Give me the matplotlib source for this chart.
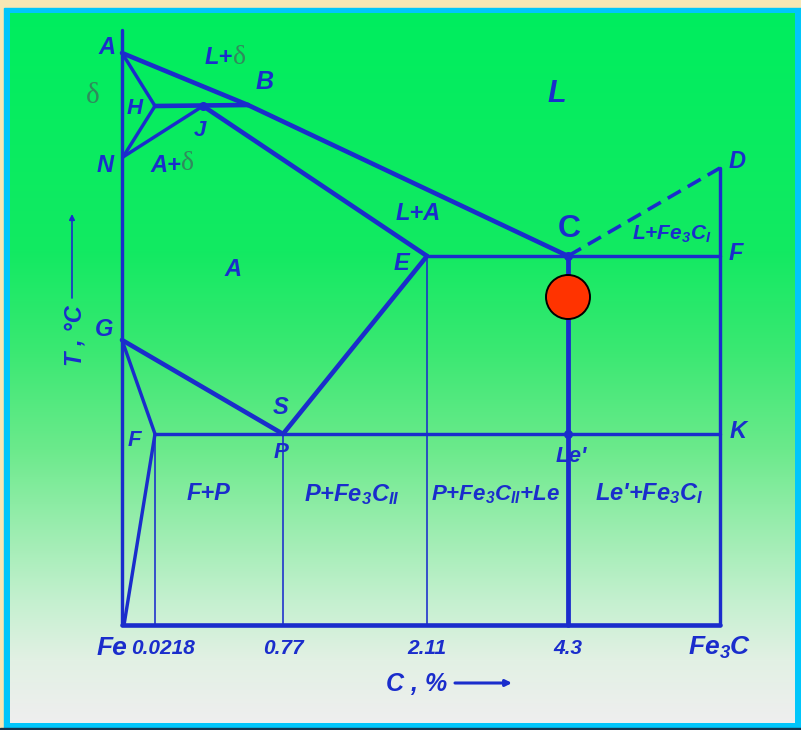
import numpy as np
import matplotlib
matplotlib.use("Agg")
import matplotlib.pyplot as plt
from matplotlib import font_manager
from matplotlib.patches import Rectangle, Circle

# ---------------------------------------------------------------- data ----
# Schematic Fe-Fe3C diagram: node positions on the drawing grid
node_names = ["top", "A", "H", "J", "B", "N", "E", "C", "F", "D",
              "G", "S", "Fp", "K", "Le", "Q", "Fe", "Fe3C",
              "b0218", "b077", "b211", "b43"]
node_x = [122, 122, 155, 203, 248, 123, 427, 568, 720, 720,
          122, 283, 155, 720, 568, 124, 122, 720,
          155, 283, 427, 568]
node_y = [30, 53, 106, 106, 105, 157, 256, 256, 256, 168,
          340, 434, 434, 434, 434, 625, 625, 625,
          625, 625, 625, 625]

# phase boundaries grouped by line weight (px)
heavy_lines = [("A", "B"), ("B", "C"), ("H", "B"), ("J", "E"),
               ("G", "S"), ("S", "E"), ("Fe", "Fe3C")]
medium_lines = [("top", "Fe"), ("A", "H"), ("H", "N"), ("N", "J"),
                ("E", "F"), ("Fp", "K"), ("G", "Fp"), ("Fp", "Q"),
                ("D", "Fe3C")]
thin_lines = [("Fp", "b0218"), ("S", "b077"), ("E", "b211")]
eutectic_alloy = ("C", "b43")
dashed_lines = [("C", "D")]
junction_dots = ["J", "C", "Le"]

# composition tick labels along the bottom
tick_nodes = ["Fe", "b0218", "b077", "b211", "b43", "Fe3C"]
tick_labels = ["Fe", "0.0218", "0.77", "2.11", "4.3", "Fe$_3$C"]

# alloy being followed (4.3 % C) just below the eutectic
alloy_marker = ("b43", 297)

# ------------------------------------------------------------- styling ----
W, H = 801, 730
BLUE = "#1a2dcc"
DELTA = "#2f8a5c"

names = {f.name for f in font_manager.fontManager.ttflist}
NARROW = "Liberation Sans Narrow" if "Liberation Sans Narrow" in names else "Liberation Sans"

plt.rcParams["mathtext.fontset"] = "custom"
plt.rcParams["mathtext.rm"] = f"{NARROW}:bold:italic"
plt.rcParams["mathtext.it"] = f"{NARROW}:bold:italic"
plt.rcParams["mathtext.bf"] = f"{NARROW}:bold:italic"
plt.rcParams["mathtext.default"] = "rm"

P = dict(zip(node_names, zip(node_x, node_y)))
PX = 0.72  # points per pixel at 100 dpi

fig = plt.figure(figsize=(W / 100, H / 100), dpi=100, facecolor="#f7e7b4")
ax = fig.add_axes([0, 0, 1, 1])
ax.set_xlim(0, W)
ax.set_ylim(H, 0)
ax.axis("off")

# frame and gradient panel
ax.add_patch(Rectangle((4, 8), W - 4, 720, color="#00c6fb", zorder=0))
ax.add_patch(Rectangle((0, 728), W, 2, color="#14324c", zorder=0))
stops_y = np.array([13, 250, 350, 450, 530, 600, 660, 723])
stops_c = np.array([[0x00, 0xee, 0x5e], [0x12, 0xea, 0x62], [0x3a, 0xe8, 0x72],
                    [0x6c, 0xea, 0x8c], [0x9c, 0xed, 0xb0], [0xc4, 0xf0, 0xcf],
                    [0xe2, 0xf1, 0xe4], [0xef, 0xee, 0xef]]) / 255.0
ys = np.arange(13, 723)
col = np.stack([np.interp(ys, stops_y, stops_c[:, k]) for k in range(3)], axis=1)
img = np.repeat(col[:, None, :], 785, axis=1)
ax.imshow(img, extent=(10, 795, 723, 13), aspect="auto", zorder=0.5,
          interpolation="bilinear")


def seg(a, b, lw_px, **kw):
    ax.plot([P[a][0], P[b][0]], [P[a][1], P[b][1]], color=BLUE,
            lw=lw_px * PX, solid_capstyle="round", zorder=2, **kw)


for a, b in heavy_lines:
    seg(a, b, 4.6)
for a, b in medium_lines:
    seg(a, b, 3.4)
for a, b in thin_lines:
    seg(a, b, 1.6)
seg(*eutectic_alloy, 4.8)
for a, b in dashed_lines:
    lw = 3.6 * PX
    ax.plot([P[a][0], P[b][0]], [P[a][1], P[b][1]], color=BLUE, lw=lw,
            dashes=(10.8 / lw, 5.8 / lw), zorder=2)
ax.plot([P[n][0] for n in junction_dots], [P[n][1] for n in junction_dots],
        "o", color=BLUE, ms=5.5, zorder=3)

mx, my = P[alloy_marker[0]][0], alloy_marker[1]
ax.add_patch(Circle((mx, my), 22, facecolor="#ff3300", edgecolor="black",
                    lw=1.4, zorder=4))


def label(x, y, s, size=17, **kw):
    opts = dict(color=BLUE, fontsize=size, fontweight="bold", fontstyle="italic",
                family="Liberation Sans", ha="center", va="center", zorder=5)
    opts.update(kw)
    return ax.text(x, y, s, **opts)


def delta_after(t, size=20):
    ax.annotate("δ", xy=(1.0, 0.0), xycoords=t, ha="left", va="bottom",
                fontsize=size, color=DELTA, family="Liberation Serif", zorder=5)


# point letters
label(107, 47, "A")
label(135, 109, "H", 16)
label(200, 130, "J", 16)
label(105, 165, "N")
label(265, 82, "B", 18)
label(737, 161, "D")
label(569, 229, "C", 23, fontstyle="normal")
label(401, 263, "E")
label(736, 254, "F")
label(104, 330, "G")
label(281, 407, "S")
label(134, 441, "F", 16)
label(281, 453, "P", 16)
label(738, 431, "K")
label(571, 456, "Le'", 16)

# phase fields
label(93, 96, "δ", 21, color=DELTA, family="Liberation Serif",
      fontweight="normal", fontstyle="normal")
t = label(219, 58, "L+", 17)
delta_after(t)
t = label(166, 165, "A+", 17)
delta_after(t)
label(557, 94, "L", 22)
label(418, 214, "L+A", 17)
label(233, 270, "A", 17)
label(672, 234, "L+Fe$_3$C$_I$", 15, family=NARROW)
label(209, 494, "F+P", 17, family=NARROW)
label(352, 495, "P+Fe$_3$C$_{II}$", 17, family=NARROW)
label(495, 495, "P+Fe$_3$C$_{II}$+Le", 16, family=NARROW)
label(649, 494, "Le'+Fe$_3$C$_I$", 17, family=NARROW)

# composition axis
for n, s in zip(tick_nodes, tick_labels):
    big = s.startswith("Fe")
    x = P[n][0] + (-10 if n == "Fe" else (8 if n == "b0218" else 0))
    label(x, 648, s, 19 if big else 15, family=NARROW if not big else "Liberation Sans")
label(417, 684, "C , %", 18)
ax.annotate("", xy=(512, 683), xytext=(455, 683),
            arrowprops=dict(arrowstyle="-|>", color=BLUE, lw=2.2, mutation_scale=9,
                            shrinkA=0, shrinkB=0), zorder=5)

# temperature axis caption
label(75, 336, "T , °C", 17, rotation=90)
ax.annotate("", xy=(72, 214), xytext=(72, 298),
            arrowprops=dict(arrowstyle="-|>", color=BLUE, lw=1.2, mutation_scale=8,
                            shrinkA=0, shrinkB=0), zorder=5)

fig.savefig("out.png", dpi=100, facecolor=fig.get_facecolor())
